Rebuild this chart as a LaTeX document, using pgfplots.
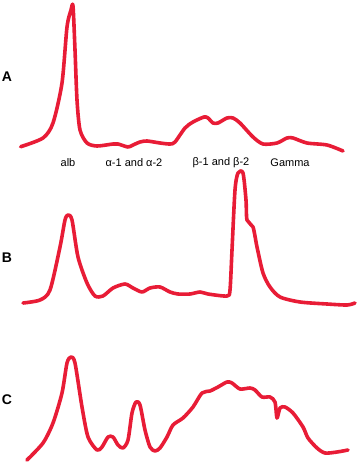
\documentclass[border=0pt]{standalone}
\usepackage{pgfplots}
\pgfplotsset{compat=1.18}
\usepackage{fontspec}
\setmainfont{Liberation Sans}
\definecolor{curve}{RGB}{232,28,54}
\begin{document}
\begin{tikzpicture}[x=1pt,y=1pt]
\useasboundingbox (0,0) rectangle (357,462);
\begin{axis}[at={(0,0)},anchor=south west,scale only axis,width=357pt,height=462pt,
  xmin=0,xmax=357,ymin=0,ymax=462,y dir=reverse,hide axis,clip=false]
\addplot[curve,line width=3.6pt,smooth,tension=0.45,line cap=round,line join=round] coordinates {
(20.7,146.7)(43,138)(53,123)(62,83)(67,27)(71,10)(73,6)(75,50)(77,100)(80,130)(87,143)(97,146)(113,144)(118,144)(128,147)(133,145)(140,142)(147,141)(160,143)(170,144)(175,142)(185,128)(193,122)(204,117)(208,118)(213,123)(218,123)(227,118)(233,118)(240,123)(253,137)(263,144)(277,143)(287,138)(293,138)(307,143)(327,145)(343,151)};
\addplot[curve,line width=3.6pt,smooth,tension=0.45,line cap=round,line join=round] coordinates {
(23,303)(40,300)(50,290)(60,247)(65,220)(68,215)(72,220)(78,257)(87,283)(95,296)(103,296)(113,288)(125,284)(133,288)(142,292)(150,288)(160,287)(170,292)(178,294)(190,294)(200,292)(208,294)(227,296)(230,290)(232,250)(235,190)(238,173)(243,173)(246,200)(247,220)(253,227)(257,247)(263,273)(270,287)(280,297)(300,302)(327,304)(347,305)(355,303)};
\addplot[curve,line width=3.6pt,smooth,tension=0.45,line cap=round,line join=round] coordinates {
(27,460)(43,443)(53,423)(62,393)(67,363)(71,357)(75,363)(82,407)(88,437)(97,450)(102,447)(108,437)(113,437)(118,445)(123,448)(128,440)(132,413)(136,402)(140,405)(145,430)(150,447)(155,451)(160,448)(167,437)(173,425)(183,418)(193,407)(202,393)(210,391)(218,387)(227,382)(232,383)(240,389)(250,388)(255,390)(262,397)(270,397)(275,402)(277,418)(280,408)(285,407)(293,413)(303,427)(308,438)(317,448)(325,453)(337,452)(348,450)};
\node[font=\bfseries\fontsize{14}{16}\selectfont] at (axis cs:7,77) {A};
\node[font=\bfseries\fontsize{14}{16}\selectfont] at (axis cs:7,258) {B};
\node[font=\bfseries\fontsize{14}{16}\selectfont] at (axis cs:7,400) {C};
\node[font=\fontsize{11}{13}\selectfont] at (axis cs:68,163) {alb};
\node[font=\fontsize{11}{13}\selectfont] at (axis cs:134,163) {α-1 and α-2};
\node[font=\fontsize{11}{13}\selectfont] at (axis cs:221,163) {β-1 and β-2};
\node[font=\fontsize{11}{13}\selectfont] at (axis cs:290,163) {Gamma};
\end{axis}
\end{tikzpicture}
\end{document}
